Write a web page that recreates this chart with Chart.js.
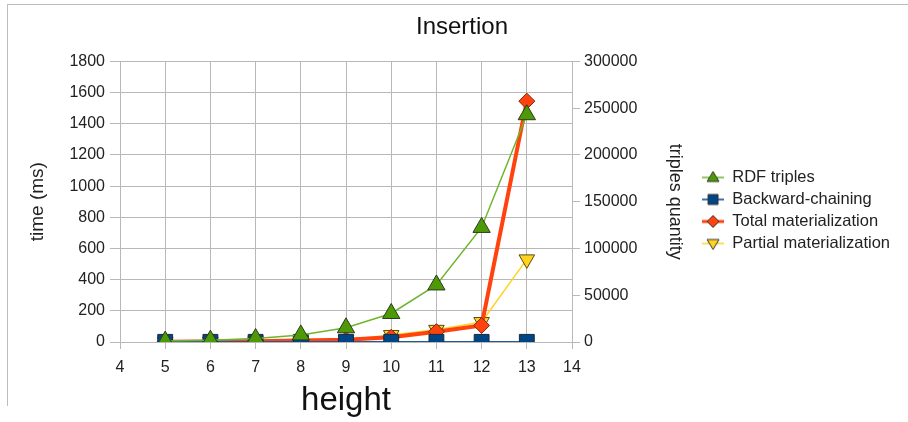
<!DOCTYPE html>
<html lang="en">
<head>
  <meta charset="UTF-8" />
  <title>Insertion</title>
  <script src="https://cdn.jsdelivr.net/npm/chart.js"></script>
  <style>
    body { margin: 0; background: #fff; }
    .wrap { position: relative; width: 908px; height: 422px; }
    .frame { position: absolute; left: 7px; top: 4px; width: 901px; height: 402px;
             border-top: 1.5px solid #bdbdbd; border-left: 1.5px solid #bdbdbd; box-sizing: border-box; }
    canvas { position: absolute; left: 0; top: 0; }
  </style>
</head>
<body>
<div class="wrap">
  <div class="frame"></div>
  <canvas id="chart" width="908" height="422"></canvas>
</div>

<script>
  // data
  const heights = [5, 6, 7, 8, 9, 10, 11, 12, 13];
  const rdfTriples = [950, 1900, 3800, 7600, 15200, 30500, 61000, 122500, 243000];  // right axis
  const backwardChaining = [1, 1, 1, 1, 1, 1, 1, 1, 1];                           // ms
  const totalMaterialization = [1, 3, 5, 9, 15, 30, 66, 106, 1545];               // ms
  const partialMaterialization = [1, 2, 4, 8, 14, 45, 78, 128, 530];              // ms
  const seriesNames = ['RDF triples', 'Backward-chaining', 'Total materialization', 'Partial materialization'];

  const FONT = 'Liberation Sans, Arial, sans-serif';
  const GRID = '#b8b8b8';

  const pts = vals => heights.map((h, i) => ({ x: h, y: vals[i] }));
  const plain = v => String(v);

  // legend icons: short line with the marker on it
  function makeIcon(color, lineW, shape, fill) {
    const c = document.createElement('canvas');
    c.width = 22; c.height = 16;
    const g = c.getContext('2d');
    g.strokeStyle = color; g.lineWidth = lineW;
    g.beginPath(); g.moveTo(0, 8); g.lineTo(22, 8); g.stroke();
    g.fillStyle = fill; g.strokeStyle = '#333'; g.lineWidth = 1;
    g.beginPath();
    if (shape === 'up') { g.moveTo(11, 2); g.lineTo(17, 12); g.lineTo(5, 12); }
    else if (shape === 'down') { g.moveTo(5, 4); g.lineTo(17, 4); g.lineTo(11, 14); }
    else if (shape === 'rect') { g.rect(6, 3, 10, 10); }
    else { g.moveTo(11, 2); g.lineTo(17, 8); g.lineTo(11, 14); g.lineTo(5, 8); }
    g.closePath(); g.fill(); g.stroke();
    return c;
  }
  const legendIcons = [
    makeIcon('#6fb52c', 1.5, 'up', '#4e9a06'),
    makeIcon('#004586', 1.5, 'rect', '#004586'),
    makeIcon('#ff420e', 3, 'diamond', '#ff420e'),
    makeIcon('#ffd320', 1.5, 'down', '#ffd320')
  ];

  // the layout caps a side legend at a sixth of the width; give it room for the long labels
  const wideLegend = {
    id: 'wideLegend',
    beforeLayout(chart) {
      const lg = chart.legend;
      if (lg && !lg._wide) {
        const orig = lg.update.bind(lg);
        lg.update = (w, h, m) => orig(260, h, m);
        lg._wide = true;
      }
    }
  };

  const ctx = document.getElementById('chart').getContext('2d');
  const chart = new Chart(ctx, {
    type: 'line',
    data: {
      datasets: [
        {
          label: seriesNames[0], data: pts(rdfTriples), yAxisID: 'y2',
          borderColor: '#6fb52c', borderWidth: 1.5, pointStyle: 'triangle', pointRadius: 10,
          pointBackgroundColor: '#4e9a06', pointBorderColor: '#2d3a1e', pointBorderWidth: 1
        },
        {
          label: seriesNames[1], data: pts(backwardChaining), yAxisID: 'y',
          borderColor: '#1f5b99', borderWidth: 1.5, pointStyle: 'rect', pointRadius: 10.5,
          pointBackgroundColor: '#004586', pointBorderColor: '#1b2a3a', pointBorderWidth: 1
        },
        {
          label: seriesNames[2], data: pts(totalMaterialization), yAxisID: 'y',
          borderColor: '#ff420e', borderWidth: 4, pointStyle: 'rectRot', pointRadius: 8,
          pointBackgroundColor: '#ff420e', pointBorderColor: '#7a2a10', pointBorderWidth: 1
        },
        {
          label: seriesNames[3], data: pts(partialMaterialization), yAxisID: 'y',
          borderColor: '#ffd320', borderWidth: 1.5, pointStyle: 'triangle', pointRotation: 180, pointRadius: 9,
          pointBackgroundColor: '#ffd320', pointBorderColor: '#5a4a10', pointBorderWidth: 1
        }
      ]
    },
    plugins: [wideLegend],
    options: {
      responsive: false,
      animation: false,
      events: [],
      layout: { padding: { left: 24, right: 8, top: 0, bottom: 1 } },
      elements: { line: { tension: 0 } },
      plugins: {
        title: {
          display: true, text: 'Insertion', color: '#111',
          font: { family: FONT, size: 24, weight: 'normal' },
          padding: { top: 13.2, bottom: 19.4 }
        },
        legend: {
          position: 'right',
          labels: {
            usePointStyle: true, pointStyleWidth: 22, padding: 5.5, color: '#222',
            font: { family: FONT, size: 16.5 },
            generateLabels: c => Chart.defaults.plugins.legend.labels.generateLabels(c)
              .map((l, i) => ({ ...l, pointStyle: legendIcons[i], rotation: 0 }))
          }
        },
        tooltip: { enabled: false }
      },
      scales: {
        x: {
          type: 'linear', min: 4, max: 14,
          ticks: { stepSize: 1, color: '#222', padding: 9, callback: plain, font: { family: FONT, size: 16 } },
          grid: { color: GRID, tickLength: 7 },
          border: { color: GRID },
          title: { display: true, text: 'height', color: '#111', padding: 0, font: { family: FONT, size: 33 } },
          afterFit: s => { s.height = 79; }
        },
        y: {
          position: 'left', min: 0, max: 1800,
          ticks: { stepSize: 200, color: '#222', padding: 5, callback: plain, font: { family: FONT, size: 16 } },
          grid: { color: GRID, tickLength: 10 },
          border: { color: GRID },
          title: { display: true, text: 'time (ms)', color: '#222', padding: { top: 2.6, bottom: 0 }, font: { family: FONT, size: 19 } },
          afterFit: s => { s.width = 96; }
        },
        y2: {
          position: 'right', min: 0, max: 300000,
          ticks: { stepSize: 50000, color: '#222', padding: 4, callback: plain, font: { family: FONT, size: 16 } },
          grid: { drawOnChartArea: false, color: GRID, tickLength: 8 },
          border: { color: GRID },
          title: { display: true, text: 'triples quantity', color: '#222', padding: { top: 10.7, bottom: 0 }, font: { family: FONT, size: 18 } },
          afterFit: s => { s.width = 124.5; }
        }
      }
    }
  });
</script>
</body>
</html>
